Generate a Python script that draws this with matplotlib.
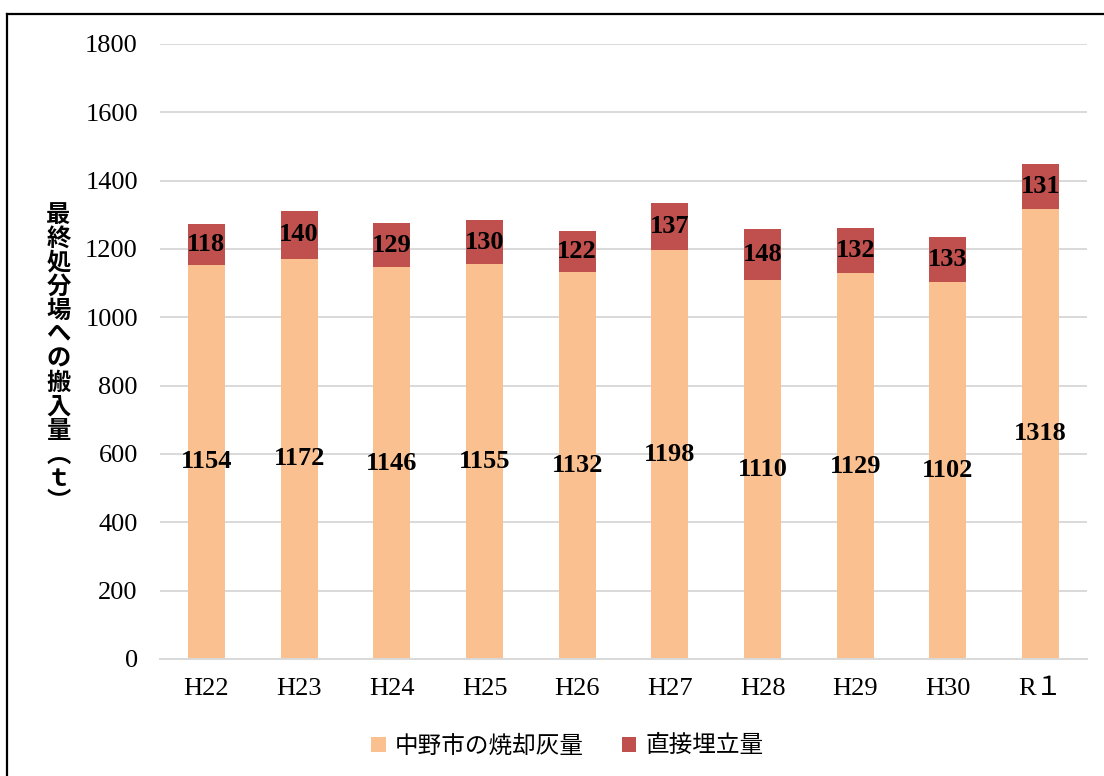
import matplotlib
matplotlib.use("Agg")
import matplotlib.pyplot as plt
from matplotlib.lines import Line2D

categories = ["H22", "H23", "H24", "H25", "H26", "H27", "H28", "H29", "H30", "R１"]
ash = [1154, 1172, 1146, 1155, 1132, 1198, 1110, 1129, 1102, 1318]
direct = [118, 140, 129, 130, 122, 137, 148, 132, 133, 131]
yticks = [0, 200, 400, 600, 800, 1000, 1200, 1400, 1600, 1800]
series_names = ["中野市の焼却灰量", "直接埋立量"]
ylabel = "最終処分場への搬入量（ｔ）"

c_ash = "#FAC090"
c_dir = "#C0504D"
serif = ["Liberation Serif", "Noto Sans CJK JP", "DejaVu Serif"]
jp = ["Noto Sans CJK JP", "DejaVu Sans"]

fig = plt.figure(figsize=(11.04, 7.76), dpi=100)
ax = fig.add_axes([0.145, 0.1508, 0.8396, 0.7925])

x = list(range(len(categories)))
b1 = ax.bar(x, ash, width=0.4, color=c_ash, label=series_names[0], zorder=2)
b2 = ax.bar(x, direct, width=0.4, bottom=ash, color=c_dir, label=series_names[1], zorder=2)

for xi, a, d in zip(x, ash, direct):
    ax.text(xi, a / 2, str(a), ha="center", va="center", fontsize=19,
            fontweight="bold", family=serif, zorder=3)
    ax.text(xi, a + d / 2, str(d), ha="center", va="center", fontsize=19,
            fontweight="bold", family=serif, zorder=3)

ax.set_xlim(-0.5, len(categories) - 0.5)
ax.set_ylim(0, 1800)
ax.set_yticks(yticks)
ax.set_yticklabels([str(v) for v in yticks], family=serif, fontsize=19)
ax.set_xticks(x)
ax.set_xticklabels(categories, family=serif, fontsize=19)
ax.tick_params(axis="both", length=0)
ax.tick_params(axis="y", pad=16)
ax.tick_params(axis="x", pad=14)
ax.grid(axis="y", color="#D9D9D9", linewidth=1.4, zorder=0)
ax.set_axisbelow(True)
for s in ["top", "right", "left"]:
    ax.spines[s].set_visible(False)
ax.spines["bottom"].set_color("#D9D9D9")
ax.spines["bottom"].set_linewidth(1.4)

vert = ylabel.replace("（", "︵").replace("）", "︶")
fig.text(0.053, 0.538, "\n".join(vert), ha="center", va="center",
         fontsize=17.5, fontweight="bold", family=jp, linespacing=1.0)

fig.legend(handles=[b1, b2], labels=series_names, loc="center",
           bbox_to_anchor=(0.514, 0.0387), ncol=2, frameon=False,
           prop={"family": jp, "size": 17}, handlelength=0.6, handleheight=0.6,
           handletextpad=0.4, columnspacing=1.6)

fig.add_artist(Line2D([0.0063, 1.0], [0.982, 0.982], transform=fig.transFigure,
                      color="black", linewidth=1.6))
fig.add_artist(Line2D([0.0063, 0.0063], [0.0, 0.982], transform=fig.transFigure,
                      color="black", linewidth=1.6))

fig.savefig("out.png", dpi=100)
